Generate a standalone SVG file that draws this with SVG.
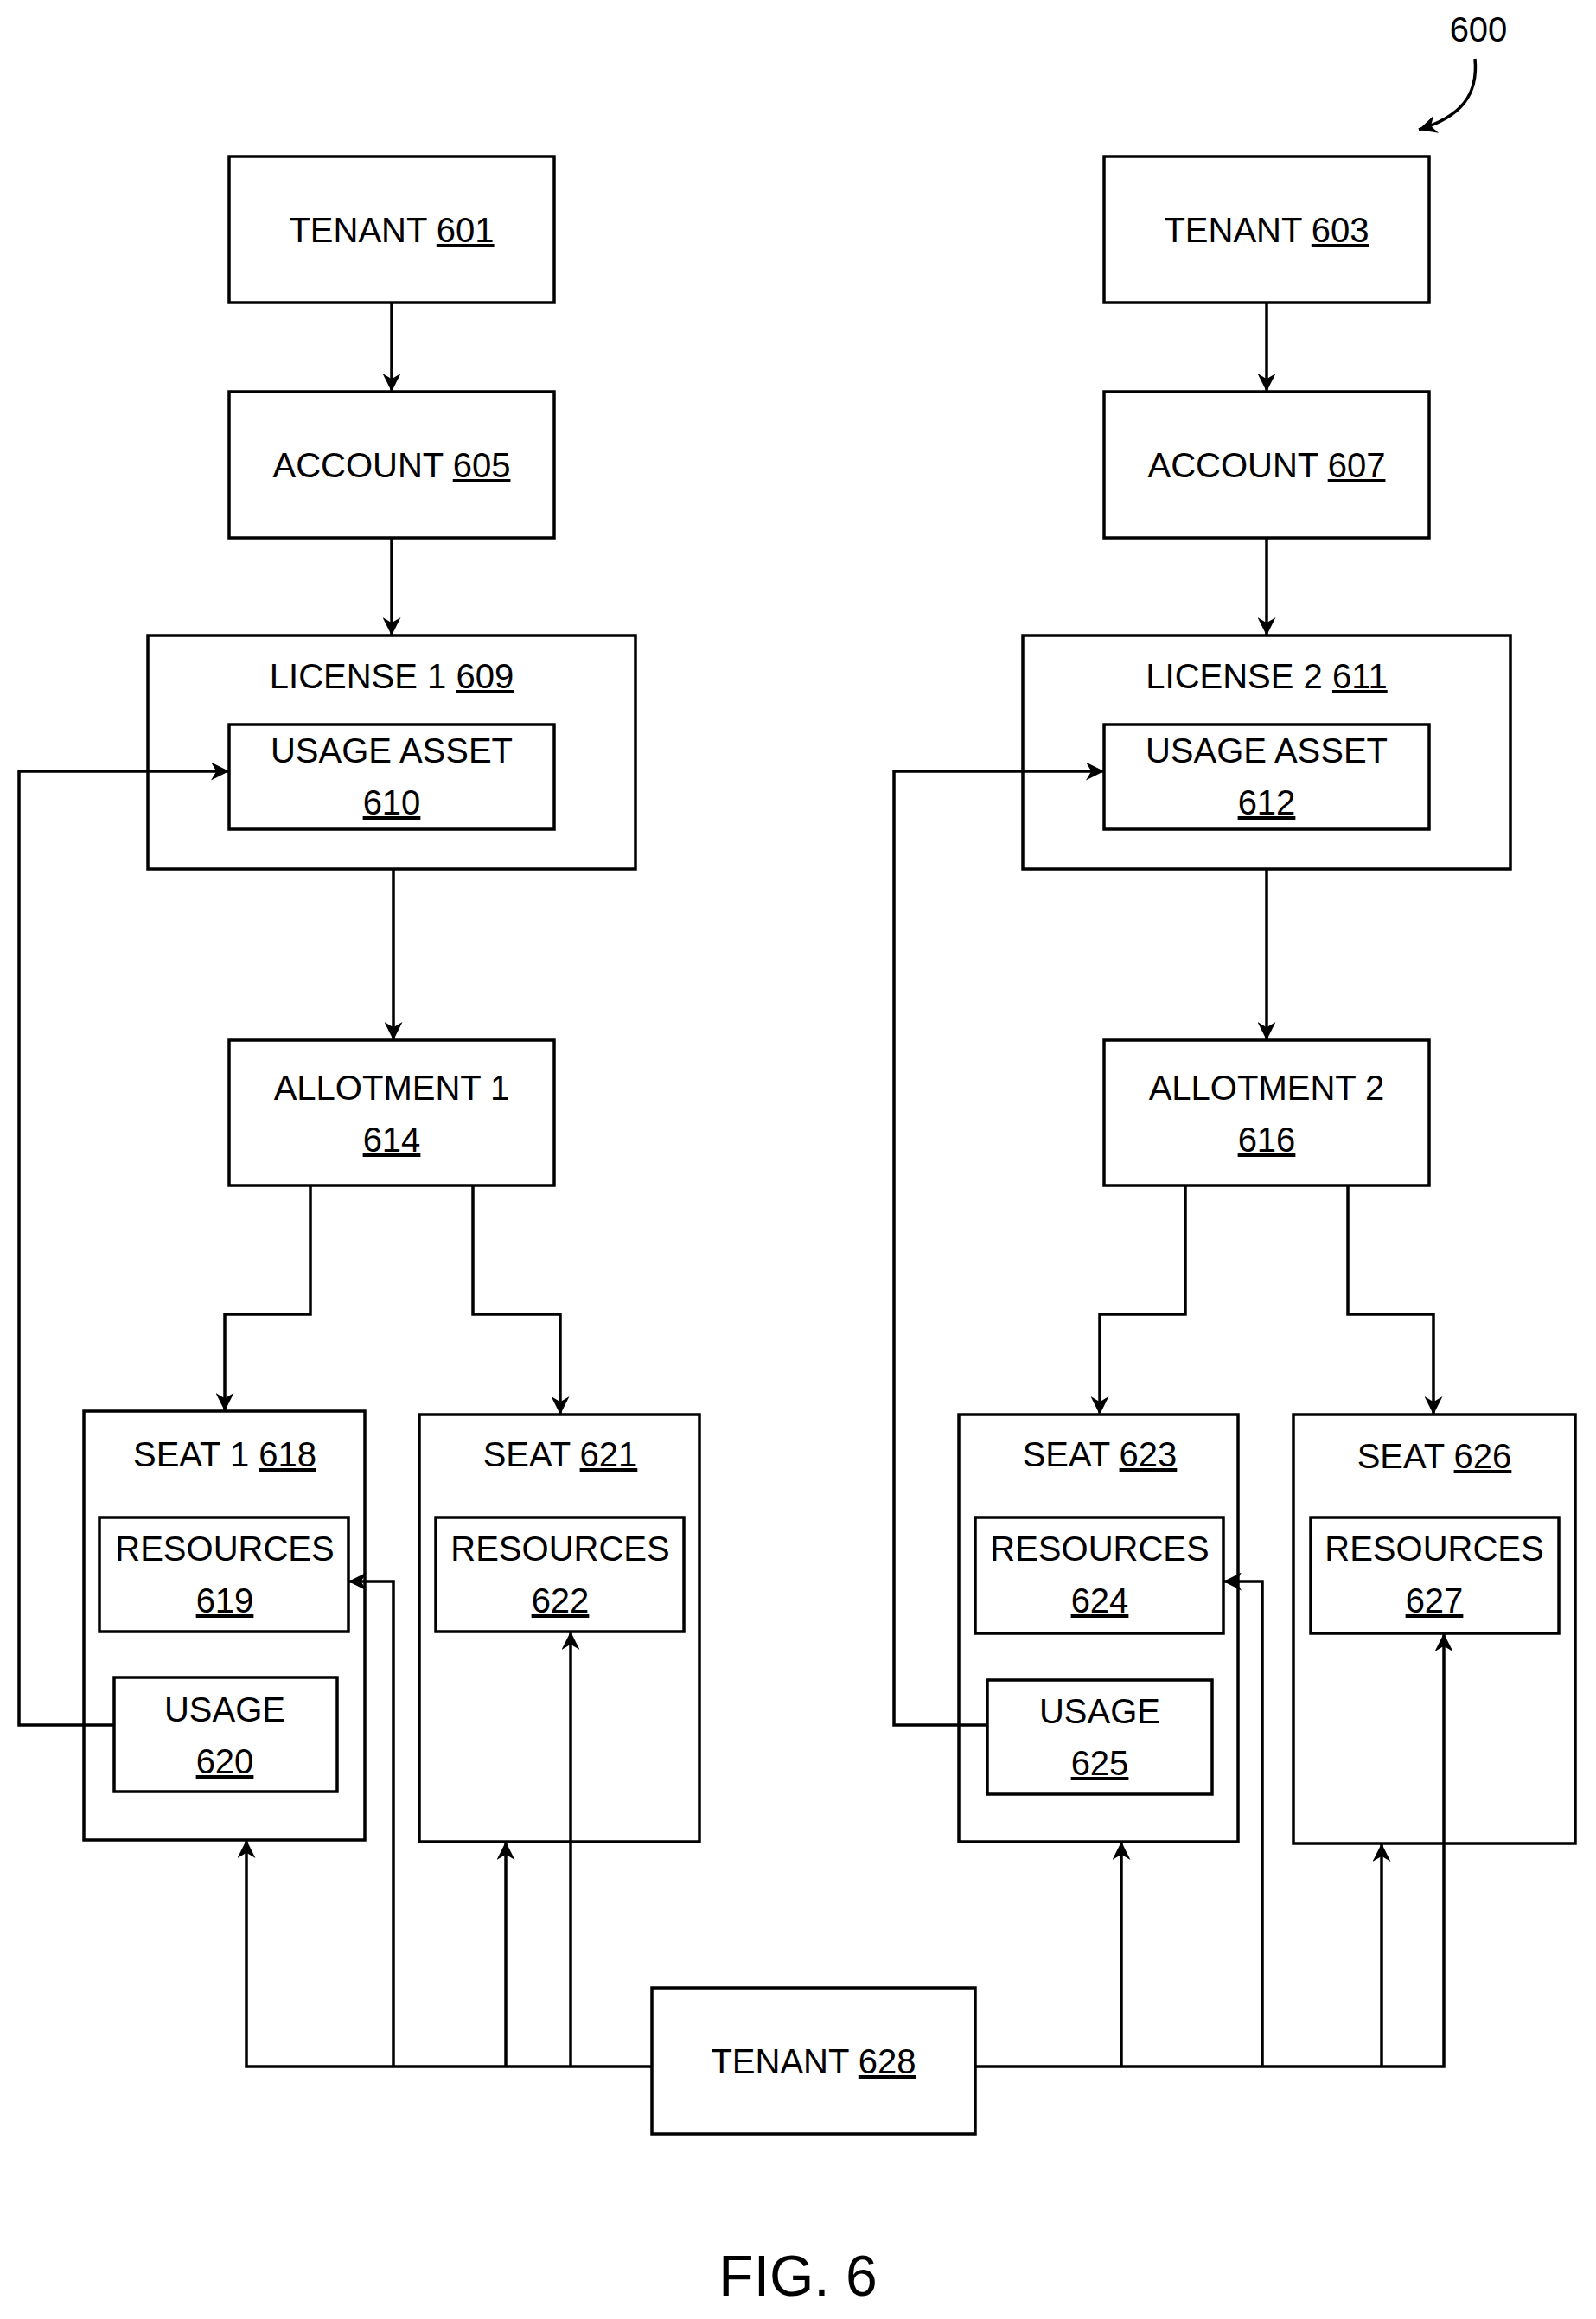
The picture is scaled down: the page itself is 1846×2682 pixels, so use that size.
<svg xmlns="http://www.w3.org/2000/svg" width="1846" height="2682" viewBox="0 0 1846 2682">
<style>
rect{fill:none;stroke:#000;stroke-width:3.5}
.c path,.c line{fill:none;stroke:#000;stroke-width:3.5}
text{font-family:"Liberation Sans",Arial,sans-serif;font-size:40px;text-anchor:middle;fill:#000}
.u{text-decoration:underline}
</style>
<defs>
<marker id="a" viewBox="0 0 10 10" refX="10" refY="5" markerWidth="6" markerHeight="6" orient="auto" markerUnits="strokeWidth"><path d="M0,0L10,5L0,10L3,5z" fill="#000"/></marker>
</defs>
<rect x="0" y="0" width="1846" height="2682" style="fill:#fff;stroke:none"/>
<g id="n601"><rect x="265" y="181" width="376" height="169"/><text x="453" y="280">TENANT <tspan class="u">601</tspan></text></g>
<g id="n603"><rect x="1277" y="181" width="376" height="169"/><text x="1465" y="280">TENANT <tspan class="u">603</tspan></text></g>
<g id="n605"><rect x="265" y="453" width="376" height="169"/><text x="453" y="552">ACCOUNT <tspan class="u">605</tspan></text></g>
<g id="n607"><rect x="1277" y="453" width="376" height="169"/><text x="1465" y="552">ACCOUNT <tspan class="u">607</tspan></text></g>
<g id="n609"><rect x="171" y="735" width="564" height="270"/><text x="453" y="796">LICENSE 1 <tspan class="u">609</tspan></text></g>
<g id="n610"><rect x="265" y="838" width="376" height="121"/><text x="453" y="882">USAGE ASSET</text><text x="453" y="942"><tspan class="u">610</tspan></text></g>
<g id="n611"><rect x="1183" y="735" width="564" height="270"/><text x="1465" y="796">LICENSE 2 <tspan class="u">611</tspan></text></g>
<g id="n612"><rect x="1277" y="838" width="376" height="121"/><text x="1465" y="882">USAGE ASSET</text><text x="1465" y="942"><tspan class="u">612</tspan></text></g>
<g id="n614"><rect x="265" y="1203" width="376" height="168"/><text x="453" y="1272">ALLOTMENT 1</text><text x="453" y="1332"><tspan class="u">614</tspan></text></g>
<g id="n616"><rect x="1277" y="1203" width="376" height="168"/><text x="1465" y="1272">ALLOTMENT 2</text><text x="1465" y="1332"><tspan class="u">616</tspan></text></g>
<g id="n618"><rect x="97" y="1632" width="325" height="496"/><text x="260" y="1696">SEAT 1 <tspan class="u">618</tspan></text></g>
<g id="n619"><rect x="115" y="1755" width="288" height="132"/><text x="260" y="1805">RESOURCES</text><text x="260" y="1865"><tspan class="u">619</tspan></text></g>
<g id="n620"><rect x="132" y="1940" width="258" height="132"/><text x="260" y="1991">USAGE</text><text x="260" y="2051"><tspan class="u">620</tspan></text></g>
<g id="n621"><rect x="485" y="1636" width="324" height="494"/><text x="648" y="1696">SEAT <tspan class="u">621</tspan></text></g>
<g id="n622"><rect x="504" y="1755" width="287" height="132"/><text x="648" y="1805">RESOURCES</text><text x="648" y="1865"><tspan class="u">622</tspan></text></g>
<g id="n623"><rect x="1109" y="1636" width="323" height="494"/><text x="1272" y="1696">SEAT <tspan class="u">623</tspan></text></g>
<g id="n624"><rect x="1128" y="1755" width="287" height="134"/><text x="1272" y="1805">RESOURCES</text><text x="1272" y="1865"><tspan class="u">624</tspan></text></g>
<g id="n625"><rect x="1142" y="1943" width="260" height="132"/><text x="1272" y="1993">USAGE</text><text x="1272" y="2053"><tspan class="u">625</tspan></text></g>
<g id="n626"><rect x="1496" y="1636" width="326" height="496"/><text x="1659" y="1698">SEAT <tspan class="u">626</tspan></text></g>
<g id="n627"><rect x="1516" y="1755" width="287" height="134"/><text x="1659" y="1805">RESOURCES</text><text x="1659" y="1865"><tspan class="u">627</tspan></text></g>
<g id="n628"><rect x="754" y="2299" width="374" height="169"/><text x="941" y="2398">TENANT <tspan class="u">628</tspan></text></g>
<text x="1710" y="48">600</text>
<text x="923" y="2655" style="font-size:66px">FIG. 6</text>
<g class="c">
<path d="M1706,68 C1710,110 1690,135 1641,150" marker-end="url(#a)"/>
<line x1="453" y1="350" x2="453" y2="453" marker-end="url(#a)"/>
<line x1="1465" y1="350" x2="1465" y2="453" marker-end="url(#a)"/>
<line x1="453" y1="622" x2="453" y2="735" marker-end="url(#a)"/>
<line x1="1465" y1="622" x2="1465" y2="735" marker-end="url(#a)"/>
<line x1="455" y1="1005" x2="455" y2="1203" marker-end="url(#a)"/>
<line x1="1465" y1="1005" x2="1465" y2="1203" marker-end="url(#a)"/>
<path d="M359,1371V1520H260V1632" marker-end="url(#a)"/>
<path d="M547,1371V1520H648V1636" marker-end="url(#a)"/>
<path d="M1371,1371V1520H1272V1636" marker-end="url(#a)"/>
<path d="M1559,1371V1520H1658V1636" marker-end="url(#a)"/>
<path d="M132,1995H22V892H265" marker-end="url(#a)"/>
<path d="M1142,1995H1034V892H1277" marker-end="url(#a)"/>
<path d="M754,2390H285V2128" marker-end="url(#a)"/>
<path d="M455,2390V1829H403" marker-end="url(#a)"/>
<line x1="585" y1="2390" x2="585" y2="2130" marker-end="url(#a)"/>
<line x1="660" y1="2390" x2="660" y2="1887" marker-end="url(#a)"/>
<path d="M1128,2390H1670V1889" marker-end="url(#a)"/>
<line x1="1297" y1="2390" x2="1297" y2="2130" marker-end="url(#a)"/>
<path d="M1460,2390V1829H1415" marker-end="url(#a)"/>
<line x1="1598" y1="2390" x2="1598" y2="2132" marker-end="url(#a)"/>
</g>
</svg>
